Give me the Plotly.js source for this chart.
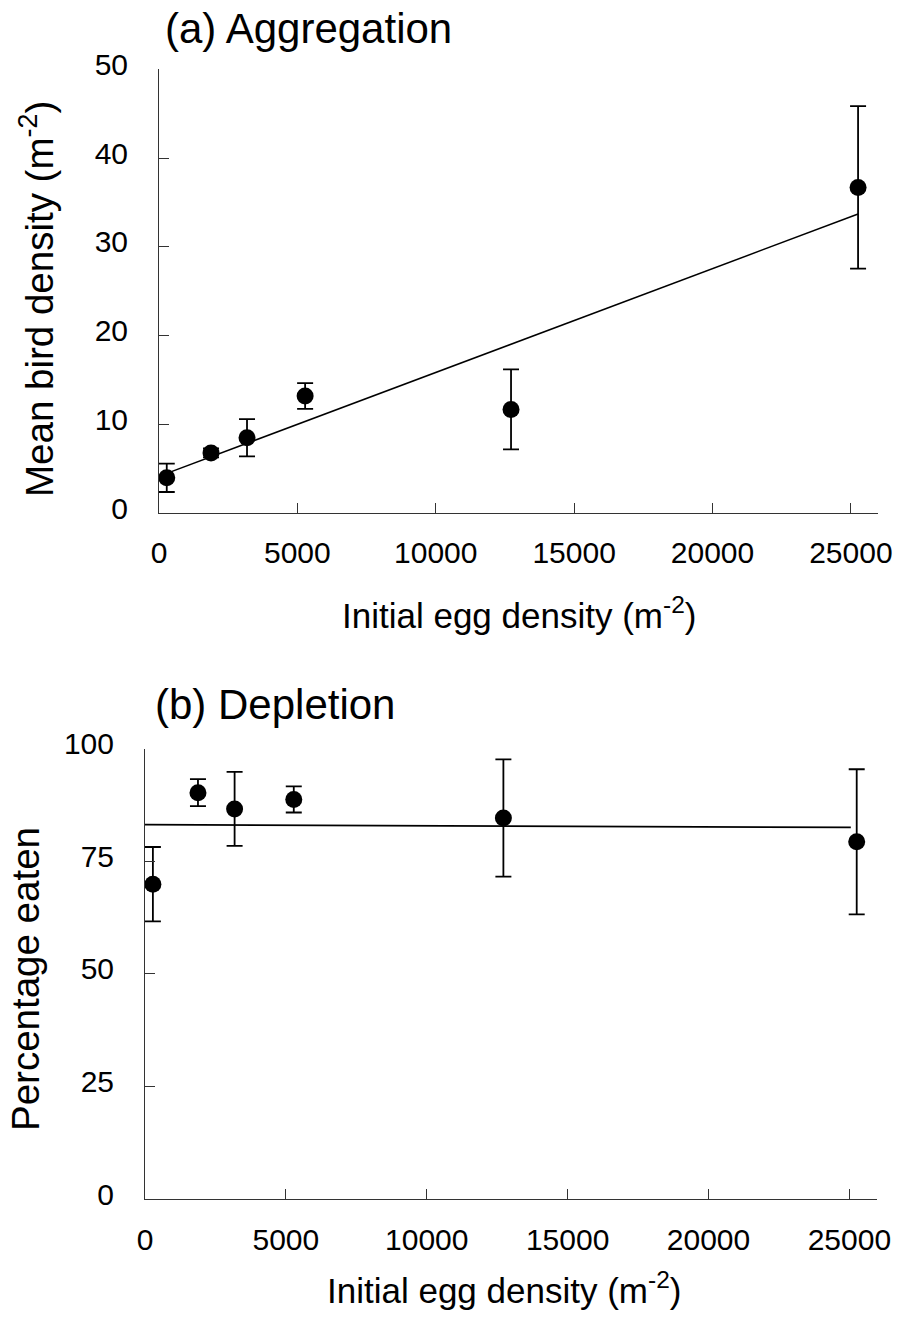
<!DOCTYPE html>
<html>
<head>
<meta charset="utf-8">
<script src="https://cdn.plot.ly/plotly-3.0.1.min.js"></script>
<style>
  html, body { margin: 0; padding: 0; background: #fff; }
  #chart { width: 899px; height: 1320px; }
</style>
</head>
<body>
<div id="chart"></div>
<script>
// Initial egg density (per m²) of the six plots
const eggDensity = [280, 1880, 3180, 5280, 12720, 25260];

// (a) Aggregation: mean bird density (per m²) with error
const birdDensity = [4.0, 6.8, 8.5, 13.2, 11.7, 36.7];
const birdError = [1.6, 0.5, 2.1, 1.45, 4.5, 9.15];
// fitted regression line end points
const birdFitX = [280, 25260];
const birdFitY = [4.5, 33.7];

// (b) Depletion: percentage of eggs eaten with error
const pctEaten = [69.9, 90.2, 86.6, 88.7, 84.6, 79.3];
const pctError = [8.25, 3.0, 8.2, 2.9, 13.0, 16.1];
// fitted line end points
const pctFitX = [0, 25050];
const pctFitY = [83.1, 82.5];

const xTicks = [0, 5000, 10000, 15000, 20000, 25000];
const birdTicks = [0, 10, 20, 30, 40, 50];
const pctTicks = [0, 25, 50, 75, 100];

const W = 899, H = 1320;
const FONT = 'Arial, "Liberation Sans", sans-serif';
const px = v => v / W;
const py = v => 1 - v / H;

const axisCommon = {
  showgrid: false,
  zeroline: false,
  showline: true,
  linecolor: '#333',
  linewidth: 1,
  ticks: 'inside',
  ticklen: 10,
  tickwidth: 1,
  tickcolor: '#333',
  tickfont: { family: FONT, size: 30, color: '#000' },
  fixedrange: true
};

const markerStyle = { color: '#000', size: 17, symbol: 'circle' };
const errStyle = arr => ({ type: 'data', array: arr, visible: true, color: '#000', thickness: 1.8, width: 8 });

const traces = [
  {
    x: eggDensity, y: birdDensity, xaxis: 'x', yaxis: 'y',
    mode: 'markers', type: 'scatter', marker: markerStyle,
    error_y: errStyle(birdError), showlegend: false, cliponaxis: false
  },
  {
    x: birdFitX, y: birdFitY, xaxis: 'x', yaxis: 'y',
    mode: 'lines', type: 'scatter', line: { color: '#000', width: 1.5 },
    showlegend: false
  },
  {
    x: eggDensity, y: pctEaten, xaxis: 'x2', yaxis: 'y2',
    mode: 'markers', type: 'scatter', marker: markerStyle,
    error_y: errStyle(pctError), showlegend: false, cliponaxis: false
  },
  {
    x: pctFitX, y: pctFitY, xaxis: 'x2', yaxis: 'y2',
    mode: 'lines', type: 'scatter', line: { color: '#000', width: 1.8 },
    showlegend: false
  }
];

const layout = {
  width: W, height: H,
  autosize: false,
  margin: { l: 0, r: 0, t: 0, b: 0 },
  paper_bgcolor: '#fff',
  plot_bgcolor: '#fff',
  font: { family: FONT, color: '#000' },
  xaxis: Object.assign({}, axisCommon, {
    domain: [px(159), px(878)], range: [0, 25980], anchor: 'y',
    tickvals: xTicks, tickformat: 'd', ticklabelstandoff: 13
  }),
  yaxis: Object.assign({}, axisCommon, {
    domain: [py(513.3), py(69.3)], range: [0, 50], anchor: 'x',
    tickvals: birdTicks, ticklabelstandoff: 24, ticklabelshift: -5
  }),
  xaxis2: Object.assign({}, axisCommon, {
    domain: [px(145), px(877)], range: [0, 25980], anchor: 'y2',
    tickvals: xTicks, tickformat: 'd', ticklabelstandoff: 14
  }),
  yaxis2: Object.assign({}, axisCommon, {
    domain: [py(1199.3), py(748.5)], range: [0, 100], anchor: 'x2',
    tickvals: pctTicks, ticklabelstandoff: 24, ticklabelshift: -5
  }),
  annotations: [
    { text: '(a) Aggregation', xref: 'paper', yref: 'paper', x: px(163), y: py(28),
      xanchor: 'left', yanchor: 'middle', showarrow: false, font: { size: 42 } },
    { text: '(b) Depletion', xref: 'paper', yref: 'paper', x: px(153), y: py(704),
      xanchor: 'left', yanchor: 'middle', showarrow: false, font: { size: 42 } },
    { text: 'Mean bird density (m<sup>-2</sup>)', xref: 'paper', yref: 'paper',
      x: px(37), y: py(299), xanchor: 'center', yanchor: 'middle', textangle: -90,
      showarrow: false, font: { size: 38.5 } },
    { text: 'Percentage eaten', xref: 'paper', yref: 'paper',
      x: px(25), y: py(979), xanchor: 'center', yanchor: 'middle', textangle: -90,
      showarrow: false, font: { size: 38.5 } },
    { text: 'Initial egg density (m<sup>-2</sup>)', xref: 'paper', yref: 'paper',
      x: px(519), y: py(613), xanchor: 'center', yanchor: 'middle',
      showarrow: false, font: { size: 35 } },
    { text: 'Initial egg density (m<sup>-2</sup>)', xref: 'paper', yref: 'paper',
      x: px(504), y: py(1288), xanchor: 'center', yanchor: 'middle',
      showarrow: false, font: { size: 35 } }
  ]
};

Plotly.newPlot('chart', traces, layout, { staticPlot: true, displayModeBar: false });
</script>
</body>
</html>
